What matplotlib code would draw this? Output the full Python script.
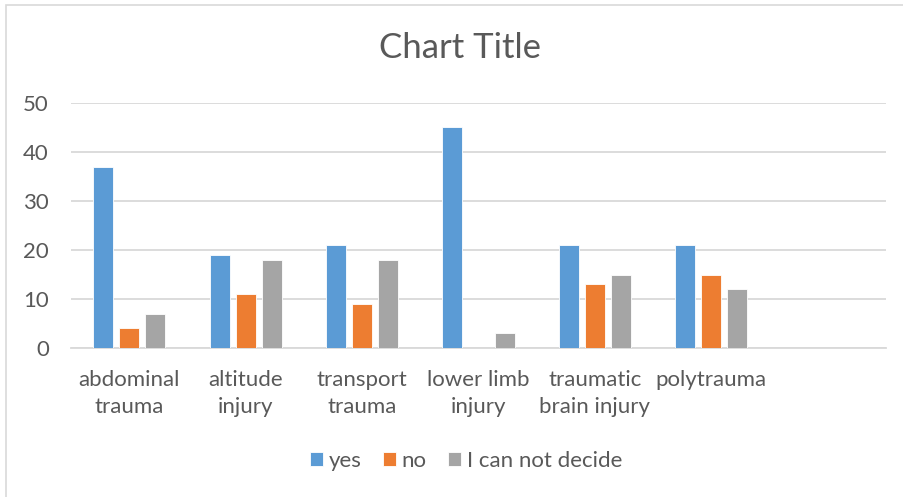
import numpy as np
import matplotlib
matplotlib.use("Agg")
import matplotlib.pyplot as plt
from matplotlib.patches import Rectangle

# Survey answers per injury type (last slot is an empty category)
categories = ["abdominal\ntrauma", "altitude\ninjury", "transport\ntrauma",
              "lower limb\ninjury", "traumatic\nbrain injury", "polytrauma", ""]
yes_counts = [37, 19, 21, 45, 21, 21, np.nan]
no_counts = [4, 11, 9, 0, 13, 15, np.nan]
undecided_counts = [7, 18, 18, 3, 15, 12, np.nan]
series_names = ["yes", "no", "I can not decide"]
y_ticks = [0, 10, 20, 30, 40, 50]

colors = ["#5B9BD5", "#ED7D31", "#A5A5A5"]
text_color = "#595959"
grid_color = "#D9D9D9"

plt.rcParams["font.family"] = ["Lato", "DejaVu Sans"]

W, H = 904, 497
fig = plt.figure(figsize=(W / 100, H / 100), dpi=100)
fig.patch.set_facecolor("white")

# chart border
fig.add_artist(Rectangle((6.5 / W, -0.1), 1.2, 1 - 4.5 / H + 0.1,
                         transform=fig.transFigure, fill=False,
                         edgecolor=grid_color, linewidth=1.2))

left, right, top, bottom = 71, 886, 103, 348
ax = fig.add_axes([left / W, 1 - bottom / H, (right - left) / W, (bottom - top) / H])

x = np.arange(len(categories))
width = 0.172
step = 0.224
for i, (vals, name) in enumerate(zip([yes_counts, no_counts, undecided_counts], series_names)):
    ax.bar(x + (i - 1) * step, vals, width=width, color=colors[i], label=name,
           edgecolor="white", linewidth=0.6, zorder=3)

ax.set_xlim(-0.5, len(categories) - 0.5)
ax.set_ylim(0, 50)
ax.set_yticks(y_ticks)
ax.set_xticks(x)
ax.set_xticklabels(categories, fontsize=16, color=text_color, linespacing=1.42)
ax.tick_params(axis="y", labelsize=16, labelcolor=text_color, length=0, pad=16)
ax.tick_params(axis="x", length=0, pad=16)
ax.grid(axis="y", color=grid_color, linewidth=1.3, zorder=0)
for side in ["left", "right", "top"]:
    ax.spines[side].set_visible(False)
ax.spines["bottom"].set_color(grid_color)
ax.spines["bottom"].set_linewidth(1.3)

fig.text(460 / W, 1 - 48 / H, "Chart Title", ha="center", va="center",
         fontsize=25, color=text_color)

fig.legend(loc="center", bbox_to_anchor=(466 / W, 1 - 461 / H), ncol=3,
           frameon=False, fontsize=16, labelcolor=text_color,
           handlelength=0.6, handleheight=0.6, handletextpad=0.25,
           columnspacing=0.95)

fig.savefig("out.png", dpi=100, facecolor="white")
